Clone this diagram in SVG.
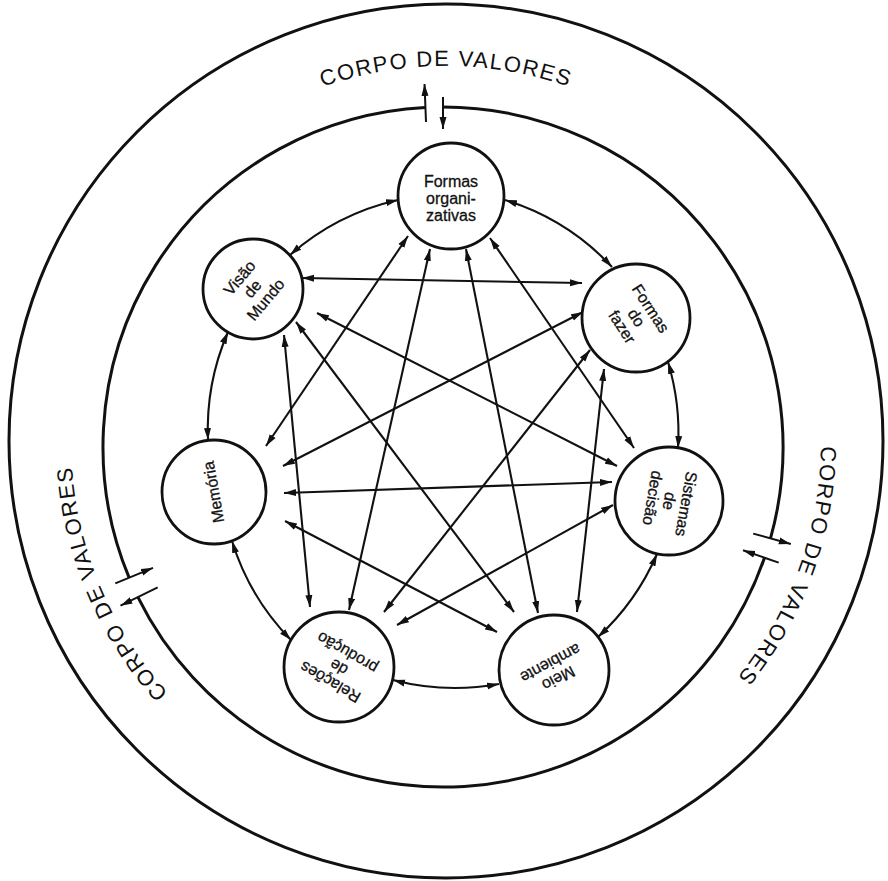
<svg xmlns="http://www.w3.org/2000/svg" width="888" height="881" viewBox="0 0 888 881">
<style>
.ring{fill:none;stroke:#111;stroke-width:3}
.node circle{fill:#fff;stroke:#111;stroke-width:2.8}
.node text{font-family:"Liberation Sans",Arial,sans-serif;font-size:16px;fill:#111;stroke:#111;stroke-width:0.3;text-anchor:middle}
.c{fill:none;stroke:#111;stroke-width:2.1;marker-start:url(#ah);marker-end:url(#ah)}
.t{fill:none;stroke:#111;stroke-width:2;marker-end:url(#ah)}
.lbl{font-family:"Liberation Sans",Arial,sans-serif;font-size:22px;letter-spacing:1.6px;fill:#111}
</style>
<defs>
<marker id="ah" markerUnits="userSpaceOnUse" markerWidth="12" markerHeight="8" refX="12" refY="4" orient="auto-start-reverse" viewBox="0 0 12 8">
<path d="M0,0.5 L12,4 L0,7.5 z" fill="#111"/>
</marker>
<path id="pTop" d="M205,153.7 A375,375 0 0 1 687,153.7"/>
<path id="pRight" d="M798.4,312.7 A375,375 0 0 1 633.5,765.8"/>
<path id="pLeft" d="M275.8,775.1 A375,375 0 0 1 87.4,331.4"/>
</defs>
<rect width="888" height="881" fill="#fff"/>
<g id="outer">
<circle class="ring" cx="446" cy="441" r="437"/>
</g>
<g id="inner">
<path class="ring" d="M764.5,557.7 A340,340 0 0 1 137.9,597.1"/>
<path class="ring" d="M129.1,577.7 A340,340 0 0 1 425.2,107.5"/>
<path class="ring" d="M443,107 A340,340 0 0 1 770.5,538.4"/>
</g>
<g id="exchange">
<line class="t" x1="426" y1="122" x2="424.5" y2="84"/>
<line class="t" x1="443" y1="97" x2="443" y2="129"/>
<line class="t" x1="115.3" y1="583.4" x2="153" y2="567.8"/>
<line class="t" x1="157.7" y1="587.4" x2="120.5" y2="605.7"/>
<line class="t" x1="753.2" y1="533.6" x2="790.8" y2="544"/>
<line class="t" x1="778.7" y1="562.6" x2="743" y2="550.3"/>
</g>
<g id="labels">
<text class="lbl"><textPath href="#pTop" startOffset="50%" text-anchor="middle">CORPO DE VALORES</textPath></text>
<text class="lbl"><textPath href="#pRight" startOffset="50%" text-anchor="middle">CORPO DE VALORES</textPath></text>
<text class="lbl"><textPath href="#pLeft" startOffset="50%" text-anchor="middle">CORPO DE VALORES</textPath></text>
</g>
<g id="connectors">
<path class="c" d="M505,200 A245,245 0 0 1 612,267"/>
<path class="c" d="M668,362 A245,245 0 0 1 678,448"/>
<path class="c" d="M657,554 A245,245 0 0 1 598,637"/>
<path class="c" d="M499,684 A245,245 0 0 1 393,680"/>
<path class="c" d="M291,640 A245,245 0 0 1 232,541"/>
<path class="c" d="M208,440 A245,245 0 0 1 228,332"/>
<path class="c" d="M290,255 A245,245 0 0 1 398,200"/>
<line class="c" x1="302" y1="278" x2="582" y2="283"/>
<line class="c" x1="284" y1="493" x2="612" y2="482"/>
<line class="c" x1="408" y1="236" x2="266" y2="446"/>
<line class="c" x1="430" y1="249" x2="349" y2="610"/>
<line class="c" x1="466" y1="249" x2="538" y2="613"/>
<line class="c" x1="490" y1="238" x2="634" y2="448"/>
<line class="c" x1="583" y1="312" x2="283" y2="466"/>
<line class="c" x1="604" y1="369" x2="577" y2="612"/>
<line class="c" x1="590" y1="350" x2="384" y2="612"/>
<line class="c" x1="613" y1="505" x2="397" y2="625"/>
<line class="c" x1="617" y1="466" x2="317" y2="313"/>
<line class="c" x1="497" y1="632" x2="285" y2="521"/>
<line class="c" x1="514" y1="612" x2="296" y2="322"/>
<line class="c" x1="310" y1="607" x2="284" y2="335"/>
</g>
<g id="n1" class="node"><circle cx="451" cy="196" r="53"/>
<text transform="translate(451,199)"><tspan x="0" y="-12">Formas</tspan><tspan x="0" y="5">organi-</tspan><tspan x="0" y="22">zativas</tspan></text></g>
<g id="n2" class="node"><circle cx="636" cy="318" r="54"/>
<text transform="translate(636,318) rotate(57)"><tspan x="0" y="-12">Formas</tspan><tspan x="0" y="5">do</tspan><tspan x="0" y="22">fazer</tspan></text></g>
<g id="n3" class="node"><circle cx="669" cy="501" r="54"/>
<text transform="translate(669,501) rotate(100)"><tspan x="0" y="-12">Sistemas</tspan><tspan x="0" y="5">de</tspan><tspan x="0" y="22">decisão</tspan></text></g>
<g id="n4" class="node"><circle cx="554" cy="670" r="55"/>
<text transform="translate(554,670) rotate(152)"><tspan x="0" y="-4">Meio</tspan><tspan x="0" y="13">ambiente</tspan></text></g>
<g id="n5" class="node"><circle cx="339" cy="667" r="55"/>
<text transform="translate(339,667) rotate(-150)"><tspan x="0" y="-12">Relações</tspan><tspan x="0" y="5">de</tspan><tspan x="0" y="22">produção</tspan></text></g>
<g id="n6" class="node"><circle cx="214" cy="492" r="52"/>
<text transform="translate(214,492) rotate(-100)"><tspan x="0" y="5">Memória</tspan></text></g>
<g id="n7" class="node"><circle cx="253" cy="289" r="50"/>
<text transform="translate(253,289) rotate(-50)"><tspan x="0" y="-12">Visão</tspan><tspan x="0" y="5">de</tspan><tspan x="0" y="22">Mundo</tspan></text></g>
</svg>
